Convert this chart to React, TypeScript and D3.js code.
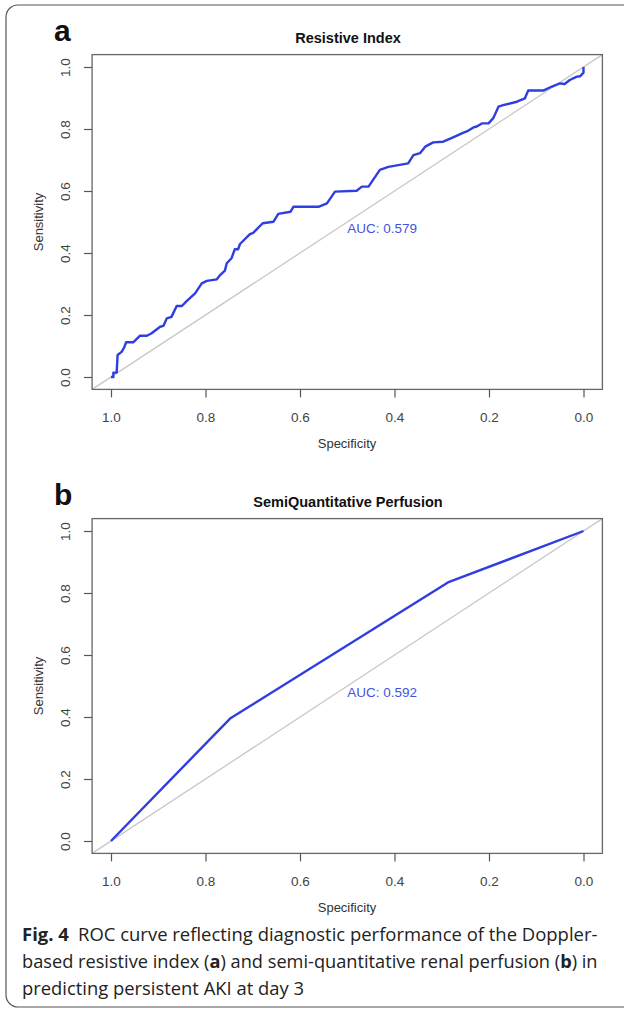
import { useEffect, useRef } from 'react';
import * as d3 from 'd3';

// Resistive index ROC (specificity, sensitivity)
const riSpec = [1.0, 0.995, 0.995, 0.988, 0.986, 0.977, 0.972, 0.968, 0.953, 0.939, 0.924, 0.914, 0.896, 0.889, 0.882, 0.872, 0.861, 0.85, 0.84, 0.822, 0.808, 0.797, 0.776, 0.769, 0.759, 0.755, 0.745, 0.738, 0.731, 0.727, 0.706, 0.699, 0.679, 0.656, 0.646, 0.62, 0.614, 0.561, 0.543, 0.526, 0.48, 0.469, 0.455, 0.431, 0.413, 0.371, 0.36, 0.346, 0.335, 0.318, 0.297, 0.276, 0.254, 0.247, 0.233, 0.226, 0.215, 0.201, 0.191, 0.18, 0.17, 0.141, 0.124, 0.117, 0.085, 0.067, 0.05, 0.04, 0.029, 0.014, 0.007, 0.0, 0.0];
const riSens = [0.0, 0.0, 0.014, 0.014, 0.071, 0.082, 0.096, 0.112, 0.112, 0.133, 0.133, 0.141, 0.162, 0.165, 0.189, 0.194, 0.229, 0.229, 0.245, 0.27, 0.302, 0.31, 0.315, 0.329, 0.343, 0.367, 0.383, 0.412, 0.412, 0.429, 0.461, 0.465, 0.496, 0.501, 0.526, 0.533, 0.549, 0.549, 0.56, 0.598, 0.601, 0.614, 0.614, 0.668, 0.678, 0.689, 0.716, 0.722, 0.743, 0.757, 0.759, 0.773, 0.788, 0.792, 0.805, 0.808, 0.818, 0.818, 0.835, 0.872, 0.877, 0.888, 0.899, 0.924, 0.924, 0.937, 0.947, 0.945, 0.958, 0.969, 0.97, 0.982, 1.0];

// Semi-quantitative perfusion ROC
const sqSpec = [1.0, 0.748, 0.287, 0.0];
const sqSens = [0.0, 0.395, 0.834, 1.0];

const ticks = [0, 0.2, 0.4, 0.6, 0.8, 1.0];

const FONT = '"Liberation Sans", Arial, sans-serif';

export default function App() {
  const svgRef = useRef<SVGSVGElement>(null);

  useEffect(() => {
    const svg = d3.select(svgRef.current);
    svg.selectAll('*').remove();

    // outer frame
    svg.append('rect')
      .attr('x', 6).attr('y', 5)
      .attr('width', 640).attr('height', 1002)
      .attr('rx', 12)
      .attr('fill', 'none')
      .attr('stroke', '#555')
      .attr('stroke-width', 1.2);

    const panel = (opts: any) => {
      const { spec, sens, letter, title, auc, top, bottom } = opts;
      const x = d3.scaleLinear().domain([1, 0]).range([111, 583.5]);
      const y = d3.scaleLinear().domain([0, 1]).range([bottom, top]);
      const g = svg.append('g');

      // panel letter + title
      g.append('text')
        .attr('x', 54).attr('y', top - 26)
        .attr('font-family', FONT).attr('font-weight', 'bold')
        .attr('font-size', 30).attr('fill', '#111')
        .text(letter);
      g.append('text')
        .attr('x', 348).attr('y', top - 24)
        .attr('text-anchor', 'middle')
        .attr('font-family', FONT).attr('font-weight', 'bold')
        .attr('font-size', 14.5).attr('fill', '#111')
        .text(title);

      // diagonal reference line over the full (extended) range
      g.append('line')
        .attr('x1', x(1.04)).attr('y1', y(-0.04))
        .attr('x2', x(-0.04)).attr('y2', y(1.04))
        .attr('stroke', '#c8c8c8').attr('stroke-width', 1.3);

      // ROC curve
      const pts = spec.map((s: number, i: number) => [s, sens[i]]);
      g.append('path')
        .datum(pts)
        .attr('fill', 'none')
        .attr('stroke', '#2f3ee0')
        .attr('stroke-width', 2.4)
        .attr('stroke-linejoin', 'round')
        .attr('d', d3.line<any>().x(d => x(d[0])).y(d => y(d[1])));

      // box
      g.append('rect')
        .attr('x', x(1.04)).attr('y', y(1.04))
        .attr('width', x(-0.04) - x(1.04))
        .attr('height', y(-0.04) - y(1.04))
        .attr('fill', 'none')
        .attr('stroke', '#666').attr('stroke-width', 1.3);

      // x axis
      const xa = g.append('g')
        .attr('transform', `translate(0,${y(-0.04)})`)
        .call(d3.axisBottom(x).tickValues(ticks).tickSize(8).tickFormat(d3.format('.1f')));
      xa.select('.domain').remove();
      xa.selectAll('line').attr('stroke', '#555').attr('stroke-width', 1.2);
      xa.selectAll('text')
        .attr('font-family', FONT).attr('font-size', 13.5).attr('fill', '#444')
        .attr('dy', 0).attr('y', 33);

      // y axis with rotated labels
      const ya = g.append('g')
        .attr('transform', `translate(${x(1.04)},0)`)
        .call(d3.axisLeft(y).tickValues(ticks).tickSize(8).tickFormat(d3.format('.1f')));
      ya.select('.domain').remove();
      ya.selectAll('line').attr('stroke', '#555').attr('stroke-width', 1.2);
      ya.selectAll('text')
        .attr('font-family', FONT).attr('font-size', 13.5).attr('fill', '#444')
        .attr('x', 0).attr('dy', 0)
        .attr('text-anchor', 'middle')
        .attr('transform', 'translate(-22,0) rotate(-90)');

      g.append('text')
        .attr('x', 347).attr('y', y(-0.04) + 59)
        .attr('text-anchor', 'middle')
        .attr('font-family', FONT).attr('font-size', 13).attr('fill', '#333')
        .text('Specificity');
      g.append('text')
        .attr('transform', `translate(43,${y(0.5)}) rotate(-90)`)
        .attr('text-anchor', 'middle')
        .attr('font-family', FONT).attr('font-size', 13).attr('fill', '#333')
        .text('Sensitivity');

      // AUC label
      g.append('text')
        .attr('x', x(0.5)).attr('y', y(0.5) + 11)
        .attr('font-family', FONT).attr('font-size', 13.5).attr('fill', '#4455dd')
        .text(`AUC: ${auc}`);
    };

    panel({ spec: riSpec, sens: riSens, letter: 'a', title: 'Resistive Index', auc: '0.579', top: 67, bottom: 377 });
    panel({ spec: sqSpec, sens: sqSens, letter: 'b', title: 'SemiQuantitative Perfusion', auc: '0.592', top: 531, bottom: 841 });

    // caption: lines squeezed horizontally to the reference widths
    const cap = svg.append('g')
      .attr('font-family', '"Open Sans", "Noto Sans", sans-serif')
      .attr('font-size', 18.5).attr('fill', '#222');
    const fit = (t: any, y0: number, w: number) => {
      const len = (t.node() as SVGTextElement).getComputedTextLength() || w;
      t.attr('transform', `translate(22,${y0}) scale(${w / len},1)`);
    };
    const l1 = cap.append('text').attr('x', 0).attr('y', 0);
    l1.append('tspan').attr('font-weight', 'bold').text('Fig. 4');
    l1.append('tspan').text('\u2002ROC curve reflecting diagnostic performance of the Doppler-');
    fit(l1, 941, 576);
    const l2 = cap.append('text').attr('x', 0).attr('y', 0);
    l2.append('tspan').text('based resistive index (');
    l2.append('tspan').attr('font-weight', 'bold').text('a');
    l2.append('tspan').text(') and semi-quantitative renal perfusion (');
    l2.append('tspan').attr('font-weight', 'bold').text('b');
    l2.append('tspan').text(') in');
    fit(l2, 968, 576);
    const l3 = cap.append('text').attr('x', 0).attr('y', 0)
      .text('predicting persistent AKI at day 3');
    fit(l3, 995, 282);
  }, []);

  return (
    <svg ref={svgRef} width={624} height={1011}
      style={{ position: 'absolute', left: 0, top: 0, background: '#fff' }} />
  );
}
